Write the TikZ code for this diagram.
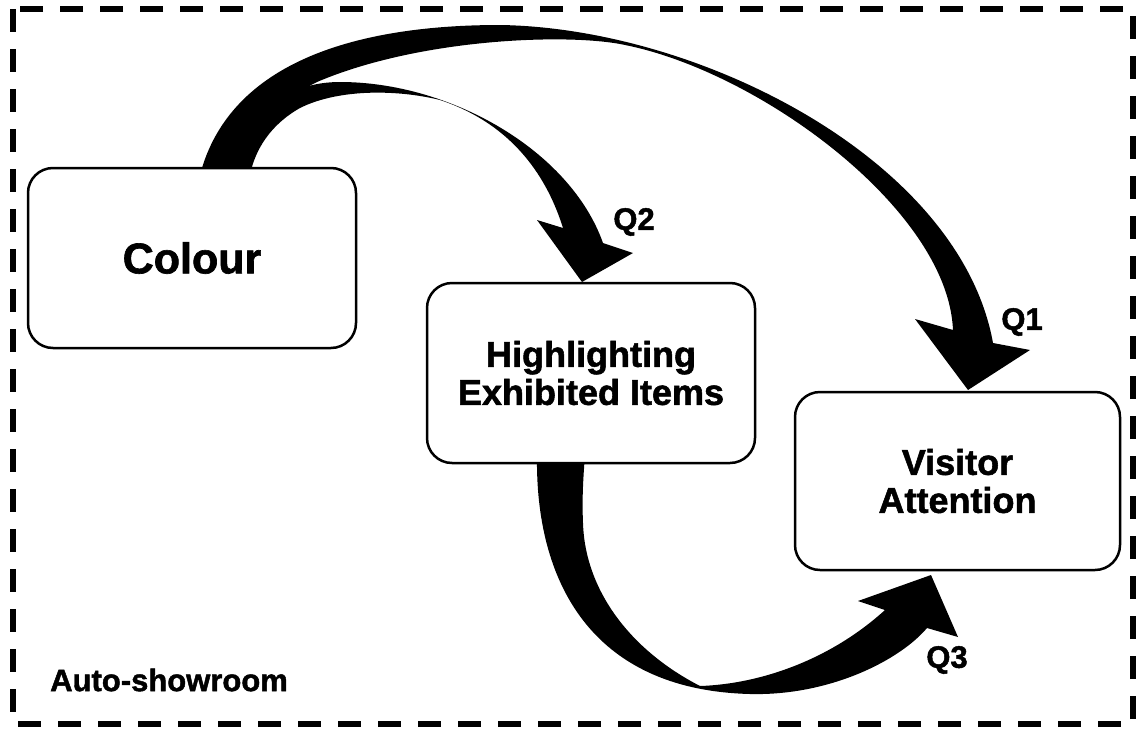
\documentclass[tikz,border=0pt]{standalone}
\usepackage{fontspec}
\setmainfont{Liberation Sans}
\newfontfamily\heavy{Liberation Sans}[BoldFeatures={FakeBold=1.5}]
\begin{document}
\begin{tikzpicture}[x=1pt,y=-1pt,
  box/.style={draw, line width=2.5pt, rounded corners=25pt, fill=white, align=center,
    font=\heavy\bfseries\fontsize{36}{38}\selectfont, inner sep=0pt},
  lbl/.style={font=\heavy\bfseries\fontsize{31}{33}\selectfont, inner sep=0pt},
  arr/.style={fill=black},
  frame/.style={line width=5.5pt, dash pattern=on 23pt off 17pt}]
\useasboundingbox (0,0) rectangle (1137,728);
\draw[frame] (13,9) rectangle (1133,724);

% Q1 arrow (Colour -> Visitor Attention)
\fill[arr] (200,175) .. controls (230,60) and (360,25) .. (500,25)
  .. controls (700,28) and (960,160) .. (993,343)
  -- (1030,350) -- (968,390) -- (915,319) -- (953,330)
  .. controls (948,210) and (760,72) .. (625,45)
  .. controls (570,33) and (420,38) .. (317,82)
  .. controls (280,100) and (250,140) .. (240,175) -- cycle;
% Q2 arrow (Colour -> Highlighting)
\fill[arr] (215,175) .. controls (245,110) and (290,82) .. (340,82)
  .. controls (450,82) and (570,150) .. (603,243)
  -- (633,253) -- (582,282) -- (537,220) -- (563,228)
  .. controls (548,180) and (515,125) .. (440,100)
  .. controls (400,90) and (340,88) .. (300,108)
  .. controls (270,125) and (255,150) .. (250,175) -- cycle;
% Q3 arrow (Highlighting -> Visitor Attention)
\fill[arr] (537,455) .. controls (535,580) and (590,690) .. (750,694)
  .. controls (830,696) and (900,660) .. (927,628)
  -- (958,637) -- (931,575) -- (858,601) -- (885,610)
  .. controls (830,660) and (760,684) .. (700,686)
  .. controls (630,650) and (585,590) .. (583,523)
  .. controls (582,500) and (583,480) .. (585,455) -- cycle;

\node[box, minimum width=328pt, minimum height=180pt, font=\heavy\bfseries\fontsize{43}{45}\selectfont] (colour) at (192,258) {Colour};
\node[box, minimum width=328pt, minimum height=180pt] (high) at (591,373) {Highlighting\\Exhibited Items};
\node[box, minimum width=325pt, minimum height=178pt] (visit) at (957.5,481) {Visitor\\Attention};

\node[lbl] (q2) at (634,222) {Q2};
\node[lbl] (q1) at (1022,322) {Q1};
\node[lbl] (q3) at (947,660) {Q3};
\node[lbl, anchor=west] (auto) at (50,680) {Auto-showroom};
\end{tikzpicture}
\end{document}
